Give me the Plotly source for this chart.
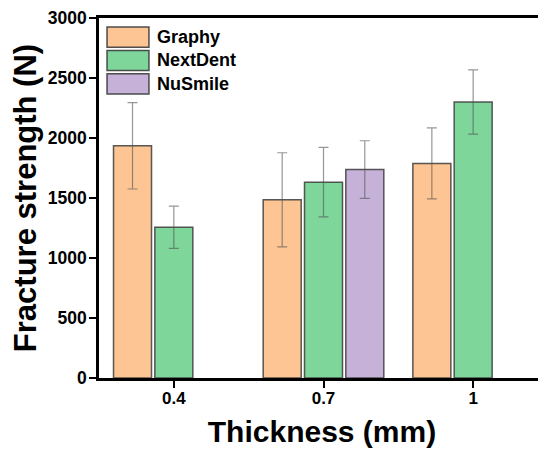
import plotly.graph_objects as go

categories = ["0.4", "0.7", "1"]
series_names = ["Graphy", "NextDent", "NuSmile"]
graphy_vals = [1935, 1485, 1788]
graphy_err = [360, 392, 296]
nextdent_vals = [1257, 1632, 2300]
nextdent_err = [176, 290, 267]
nusmile_vals = [None, 1737, None]
nusmile_err = [None, 240, None]
colors = ["#FEC594", "#7ED69B", "#C6B1D8"]
y_ticks = [0, 500, 1000, 1500, 2000, 2500, 3000]

FONT = "Liberation Sans, Arial, sans-serif"

fig = go.Figure()
for name, vals, errs, col in zip(series_names,
                                 [graphy_vals, nextdent_vals, nusmile_vals],
                                 [graphy_err, nextdent_err, nusmile_err],
                                 colors):
    fig.add_trace(go.Bar(
        x=categories, y=vals, name=name,
        marker=dict(color=col, line=dict(color="rgba(60,60,60,0.85)", width=1.5)),
        error_y=dict(type="data", array=errs, visible=True,
                     color="rgba(80,80,80,0.6)", thickness=1.2, width=5),
        showlegend=False,
    ))

# legend drawn as boxes + labels (large swatches like the reference)
sw_x0, sw_x1 = 0.018, 0.112
top = 0.975
sw_h = 0.056
step = 0.065
for i, (name, col) in enumerate(zip(series_names, colors)):
    y1 = top - i * step
    y0 = y1 - sw_h
    fig.add_shape(type="rect", xref="paper", yref="paper",
                  x0=sw_x0, x1=sw_x1, y0=y0, y1=y1,
                  fillcolor=col, line=dict(color="rgba(60,60,60,0.9)", width=1.5))
    fig.add_annotation(xref="paper", yref="paper", x=0.126, y=(y0 + y1) / 2,
                       text=name, showarrow=False, xanchor="left", yanchor="middle",
                       font=dict(family=FONT, size=18, color="black", weight="bold"))

# thin right border
fig.add_shape(type="line", xref="paper", yref="paper", x0=1, x1=1, y0=0, y1=1,
              line=dict(color="#BBBBBB", width=1))

fig.update_layout(
    width=538, height=444,
    margin=dict(l=91, r=1, t=10, b=74, autoexpand=False),
    paper_bgcolor="white", plot_bgcolor="white",
    barmode="group", bargap=0.172, bargroupgap=0.08,
    font=dict(family=FONT, color="black"),
)
fig.update_xaxes(
    type="category", range=[-0.5, 2.48],
    showline=True, linecolor="black", linewidth=2.5, mirror=True,
    ticks="outside", ticklen=7, tickwidth=2, tickcolor="black",
    tickfont=dict(family=FONT, size=17, weight="bold"), ticklabelstandoff=-4,
    title=dict(text="Thickness (mm)", font=dict(family=FONT, size=30, weight="bold"),
               standoff=14),
    showgrid=False, automargin=False,
)
fig.update_yaxes(
    range=[0, 3000], tickvals=y_ticks,
    showline=True, linecolor="black", linewidth=2.5,
    ticks="outside", ticklen=7, tickwidth=2, tickcolor="black",
    tickfont=dict(family=FONT, size=17.5, weight="bold"), ticklabelstandoff=-1,
    title=dict(text="Fracture strength (N)", font=dict(family=FONT, size=31, weight="bold"),
               standoff=6),
    showgrid=False, zeroline=False, automargin=False,
)

fig.write_html("out.html")
